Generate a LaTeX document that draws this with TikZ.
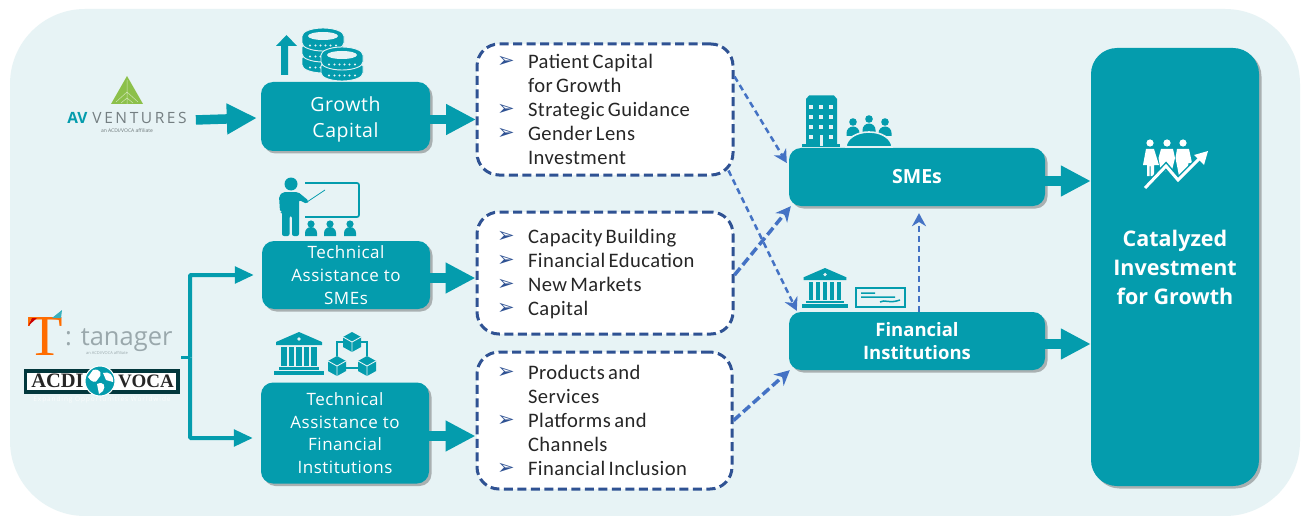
\documentclass[tikz,border=0pt]{standalone}
\usepackage{fontspec}
\usetikzlibrary{arrows.meta,shadows,shapes.geometric,calc}
\setmainfont{Open Sans}
\newfontfamily\boxfont[LetterSpace=3]{Open Sans}
\newfontfamily\listfont[LetterSpace=2.2,WordSpace=1.5]{Carlito}
\newcommand{\boldfont}{\bfseries}
\newfontfamily\symfont{DejaVu Sans}
\newfontfamily\seriffont{Liberation Serif}
\definecolor{teal}{HTML}{049CAD}
\definecolor{bgc}{HTML}{E7F3F5}
\definecolor{navy}{HTML}{2F5293}
\definecolor{dash}{HTML}{4472C4}
\definecolor{txt}{HTML}{262626}
\definecolor{gry}{HTML}{9AA8AC}
\definecolor{leaf}{HTML}{8CC04A}
\tikzset{
  tealbox/.style={fill=teal,rounded corners=12pt,text=white,align=center,inner sep=0pt,
     drop shadow={shadow xshift=2.5pt,shadow yshift=-2.5pt,opacity=.4,fill=black!70}},
  listbox/.style={draw=navy,fill=white,line width=3pt,dash pattern=on 9pt off 4.5pt,rounded corners=22pt,
     inner xsep=20pt,inner ysep=0pt,text=txt,align=left},
  fatarrow/.style={draw=teal,line width=9.5pt,-{Triangle[length=30pt,width=29pt]},shorten <=0pt},
  thinarrow/.style={draw=teal,line width=4pt,-{Triangle[length=19pt,width=16.5pt]}},
  dashthin/.style={draw=dash,line width=2.5pt,dash pattern=on 6pt off 4pt,-{Stealth[length=13pt,width=14pt]}},
  dashthick/.style={draw=dash,line width=3.5pt,dash pattern=on 9pt off 4pt,-{Stealth[length=15pt,width=15pt]}},
  logotext/.style={inner sep=0pt,text=gry}
}
\newcommand{\lst}[1]{\raisebox{-2pt}[\height][\depth]{\fontsize{20.6}{24}\selectfont\listfont\renewcommand{\arraystretch}{1}\begin{tabular}{@{}p{31pt}@{}l@{}}#1\end{tabular}}}
\newcommand{\blt}{\raisebox{1pt}{\symfont\fontsize{21}{24}\selectfont\textcolor{navy}{➢}}}
\newcommand{\dn}[2]{\raisebox{-#1}[\height][\depth]{\begin{tabular}{@{}c@{}}#2\end{tabular}}}
% icons
\newcommand{\coinlayer}[2]{%
  \fill[teal,draw=bgc,line width=.9pt] (#1-21,#2) -- (#1-21,#2+7) arc[start angle=180,end angle=360,x radius=21pt,y radius=8pt] -- (#1+21,#2) arc[start angle=0,end angle=180,x radius=21pt,y radius=8pt] -- cycle;
  \foreach \d in {-13,-7.5,-2.5,2.5,7.5,13}{\fill[bgc] (#1+\d,#2+9.5) circle (1.2pt);}
}
\newcommand{\cointop}[2]{\fill[bgc] (#1,#2) ellipse (15pt and 4pt);}
\newcommand{\bank}[3]{% x, y top, scale width
  \begin{scope}[shift={(#1,#2)},x=#3pt,y=-#3pt]
    \fill[teal] (0,0) -- (23,10) -- (23,13) -- (-23,13) -- (-23,10) -- cycle;
    \fill[bgc] (0,7) circle (1.9);
    \foreach \c in {-15,-7.5,0,7.5,15}{\fill[teal] (\c-2.6,15) rectangle (\c+2.6,34);}
    \fill[teal] (-20,35) rectangle (20,38);
    \fill[teal] (-25,39) rectangle (25,42.5);
  \end{scope}}
\newcommand{\cube}[2]{%
  \fill[teal] (#1,#2-10) -- (#1+9,#2-5) -- (#1+9,#2+5) -- (#1,#2+10) -- (#1-9,#2+5) -- (#1-9,#2-5) -- cycle;
  \draw[bgc,line width=.9pt] (#1-9,#2-5) -- (#1,#2) -- (#1+9,#2-5) (#1,#2) -- (#1,#2+10);
}
\begin{document}
\begin{tikzpicture}[x=1pt,y=-1pt]
\useasboundingbox (0,0) rectangle (1301,516);
\fill[white] (0,0) rectangle (1301,516);
\fill[bgc,rounded corners=75pt] (10,9) rectangle (1300,516);
% main boxes
\node[tealbox,minimum width=169pt,minimum height=69pt,font=\fontsize{19.5}{26}\selectfont\boxfont] (gc) at (345.5,116.5) {\dn{3pt}{Growth\\Capital}};
\node[tealbox,minimum width=168pt,minimum height=68pt,font=\fontsize{17}{23}\selectfont\boxfont] (tas) at (346,275) {Technical\\Assistance to\\SMEs};
\node[tealbox,minimum width=168pt,minimum height=101pt,font=\fontsize{17}{22.7}\selectfont\boxfont] (taf) at (345,433) {Technical\\Assistance to\\Financial\\Institutions};
\node[tealbox,minimum width=256pt,minimum height=58pt,font=\fontsize{19.5}{24}\selectfont\boldfont] (sme) at (917,177) {SMEs};
\node[tealbox,minimum width=256pt,minimum height=58pt,font=\fontsize{18.5}{23.5}\selectfont\boldfont] (fin) at (917,341) {Financial\\Institutions};
\node[tealbox,rounded corners=26pt,minimum width=168pt,minimum height=438pt,font=\fontsize{21.5}{29}\selectfont\boldfont] (cat) at (1175,267) {Catalyzed\\Investment\\for Growth};
% list boxes
\node[listbox,text width=216pt,minimum height=131pt] (m1) at (605,109.5) {\lst{\blt&Patient Capital\\&for Growth\\\blt&Strategic Guidance\\\blt&Gender Lens\\&Investment}};
\node[listbox,text width=216pt,minimum height=122pt] (m2) at (605,273) {\lst{\blt&Capacity Building\\\blt&Financial Education\\\blt&New Markets\\\blt&Capital}};
\node[listbox,text width=215pt,minimum height=137pt] (m3) at (604.5,420.5) {\lst{\blt&Products and\\&Services\\\blt&Platforms and\\&Channels\\\blt&Financial Inclusion}};
% logos
\fill[leaf] (127,76) -- (143,104) -- (111,104) -- cycle;
\draw[white!60!leaf,line width=.5pt] (127,80) -- (127,104) (127,92) -- (116,102) (127,92) -- (138,102) (127,98) -- (121,103) (127,98) -- (133,103);
\node[logotext,anchor=base,text=gry!75!black] (av) at (127,124) {\fontsize{15.5}{18}\selectfont\textcolor{teal}{\textbf{AV}}\hspace{5pt}V\,E\,N\,T\,U\,R\,E\,S};
\node[logotext,text=gry!70!black] (avsub) at (127,131) {\fontsize{5}{6}\selectfont an ACDI/VOCA affiliate};
% tanager
\node[logotext,text=orange!85!red,anchor=base,font=\seriffont] (tlogo) at (45,355) {\fontsize{58}{60}\selectfont T};
\fill[red!80!black] (28,326) -- (37,318) -- (32,318) -- cycle;
\fill[teal!80] (52,318) -- (62,310) -- (61,318) -- cycle;
\node[logotext,anchor=base west] (tan) at (65,345) {\fontsize{25.5}{30}\selectfont : tanager};
\node[logotext] (tansub) at (107,353) {\fontsize{4}{5}\selectfont an ACDI/VOCA affiliate};
% acdi voca
\fill[black!65!teal] (24,369) rectangle (180,394);
\fill[white] (27,373) rectangle (176,389.5);
\node[inner sep=0pt,anchor=base,text=black!85,font=\seriffont\bfseries] (acdi) at (57.5,387.5) {\fontsize{20.5}{22}\selectfont ACDI};
\node[inner sep=0pt,anchor=base,text=black!85,font=\seriffont\bfseries] (voca) at (146,387.5) {\fontsize{19}{22}\selectfont VOCA};
\fill[teal,draw=white,line width=1pt] (100,381) circle (15pt);
\fill[white] (93,370) .. controls (101,368) and (103,375) .. (98,379) .. controls (96,384) and (91,382) .. (88,377) -- cycle;
\fill[white] (97,384) .. controls (104,381) and (106,386) .. (103,391) -- (99,394) -- cycle;
\fill[white] (103,373) .. controls (109,371) and (114,375) .. (113,382) -- (106,380) -- cycle;
\node[inner sep=0pt,text=white!75!bgc] (tagline) at (102,400) {\fontsize{6.5}{8}\selectfont\addfontfeature{LetterSpace=14}Expanding Opportunities Worldwide};
% block arrows
\draw[fatarrow] ([xshift=9pt,yshift=-1.5pt]av.east) -- ([xshift=-4pt,yshift=-1.5pt]gc.west);
\draw[fatarrow] ([yshift=-3pt]gc.east) -- ([yshift=-3pt,xshift=.5pt]gc.east -| m1.west);
\draw[fatarrow] ([yshift=-3pt]tas.east) -- ([yshift=-3pt]tas.east -| m2.west);
\draw[fatarrow] ([yshift=-3pt]taf.east) -- ([yshift=-3pt]taf.east -| m3.west);
\draw[fatarrow] ([yshift=-4pt]sme.east) -- ([yshift=-4pt]sme.east -| cat.west);
\draw[fatarrow] ([yshift=-3pt]fin.east) -- ([yshift=-3pt]fin.east -| cat.west);
% branch
\coordinate (src) at (181,357.5);
\coordinate (bus) at (190,357.5);
\draw[teal,line width=2.5pt] (src) -- (bus);
\draw[thinarrow,rounded corners=1pt] (bus) |- ([xshift=-8pt]tas.west);
\draw[thinarrow,rounded corners=1pt] (bus) |- ([xshift=-8pt,yshift=-5pt]taf.west);
% dashed
\draw[dashthin] ([yshift=33pt]m1.east) -- ([yshift=14pt,xshift=-2pt]sme.west);
\draw[dashthin] ([xshift=-6pt,yshift=-61pt]m1.east) -- ([xshift=8pt,yshift=1pt]fin.north west);
\draw[dashthick] ([yshift=-2pt]m2.east) -- ([xshift=2pt]sme.south west);
\draw[dashthick] (m3.east) -- ([xshift=1pt]fin.south west);
\draw[dashthin] ([xshift=2pt]fin.north) -- ([xshift=2pt,yshift=-7pt]sme.south);
% icons: growth capital
\fill[teal] (281,75) -- (281,46) -- (276,46) -- (286.5,35) -- (297,46) -- (288,46) -- (288,75) -- cycle;
\coinlayer{323}{58}
\coinlayer{323}{47}
\coinlayer{323}{36}
\cointop{323}{36}
\coinlayer{342}{66}
\coinlayer{342}{55}
\cointop{342}{55}
% teacher
\fill[teal] (291,184) circle (6.5pt);
\fill[teal,rounded corners=2pt] (279,196) -- (283,192) -- (298,192) -- (309,201) -- (307,204) -- (299,200) -- (299,236) -- (292,236) -- (292,216) -- (289.5,216) -- (289.5,236) -- (282,236) -- (282,212) -- (280,212) -- cycle;
\draw[teal,line width=1.7pt,rounded corners=2pt] (305,183) -- (359,183) -- (359,217) -- (305,217);
\draw[teal,line width=.8pt] (307,202) -- (325,190);
\foreach \p in {311,330,350}{\fill[teal] (\p,224) circle (3.6pt);
  \fill[teal] (\p-6,236) -- (\p-6,233) arc[start angle=180,end angle=0,radius=6pt] -- (\p+6,236) -- cycle;}
% bank + cubes
\bank{299}{332}{1}
\draw[teal,line width=1.5pt] (345,342) -- (337,342) -- (337,356) (360,342) -- (367,342) -- (367,356) (345,368) -- (359,368);
\cube{352}{342}
\cube{337}{366}
\cube{367}{366}
% SME building
\fill[teal] (806,146) -- (806,99) -- (809,95.5) -- (834,95.5) -- (837,99) -- (837,146) -- cycle;
\fill[teal] (802,144) rectangle (840,147);
\foreach \a in {811,821,831} {\foreach \b in {107,117,127,137}{\fill[bgc] (\a-1.9,\b-1.9) rectangle ++(3.8,3.8);}}
\fill[teal] (819,134) rectangle (823,146);
\fill[bgc] (819.5,135) rectangle (822.5,146);
% meeting
\foreach \p/\q in {853/122,869/119,885/122}{\fill[teal] (\p,\q) circle (3.8pt);
  \fill[teal] (\p-6.5,\q+14) -- (\p-6.5,\q+11) arc[start angle=180,end angle=0,radius=6.5pt] -- (\p+6.5,\q+14) -- cycle;}
\filldraw[fill=teal,draw=bgc,line width=1.6pt] (846,147) arc[start angle=180,end angle=0,x radius=23pt,y radius=15pt] -- cycle;
% FI icons
\bank{825}{268}{0.93}
\draw[teal,line width=2.6pt] (856,288) rectangle (905,307);
\draw[teal,line width=1.5pt] (861,293) -- (875,293) (861,297) -- (895,297) (880,302) .. controls (885,299) and (889,304) .. (900,300);
% catalyzed icon
\foreach \p in {1150,1167,1183}{\fill[white] (\p,143) circle (3.6pt);}
\fill[white] (1146,149) -- (1154,149) -- (1159,165) -- (1154,165) -- (1154,176) -- (1150.5,176) -- (1150.5,166) -- (1149.5,166) -- (1149.5,176) -- (1147,176) -- (1147,165) -- (1143,165) -- cycle;
\fill[white] (1161,149) -- (1173,149) -- (1175,158) -- (1172,170) -- (1161,172) -- (1158.5,158) -- cycle;
\fill[white] (1177,149) -- (1189,149) -- (1192,163) -- (1188.5,163) -- (1187,172) -- (1179,176) -- (1175.5,158) -- cycle;
\draw[teal,line width=6pt] (1145,188) -- (1166,166) -- (1178,180) -- (1203,155);
\draw[white,line width=3pt] (1145,188) -- (1166,166) -- (1178,180) -- (1203,155);
\fill[white] (1208,151) -- (1204,165) -- (1194,155) -- cycle;
\end{tikzpicture}
\end{document}
